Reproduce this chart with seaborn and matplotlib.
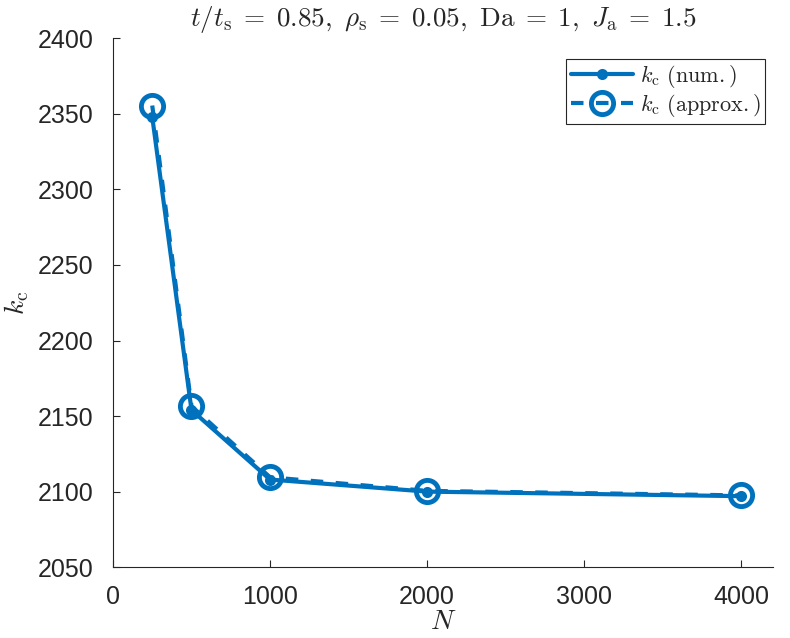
import matplotlib
matplotlib.use("Agg")
import matplotlib.pyplot as plt
import seaborn as sns
import pandas as pd

# Data
N = [250, 500, 1000, 2000, 4000]
kc_num = [2348, 2154, 2108, 2100, 2097]
kc_approx = [2355.5, 2156.5, 2109.5, 2100.5, 2097.5]

df = pd.DataFrame({"N": N, "num": kc_num, "approx": kc_approx})

sns.set_style("ticks")
plt.rcParams["font.family"] = ["Liberation Sans", "DejaVu Sans"]
plt.rcParams["mathtext.fontset"] = "cm"

blue = "#0072BD"
dark = "#262626"

fig = plt.figure(figsize=(7.9, 6.38), dpi=100)
ax = fig.add_axes([0.143, 0.111, 0.835, 0.829])

sns.lineplot(data=df, x="N", y="num", ax=ax, color=blue, lw=3, marker="o",
             markersize=8, markeredgewidth=0,
             label=r"$k_{\mathrm{c}}\ \mathrm{(num.)}$")
sns.lineplot(data=df, x="N", y="approx", ax=ax, color=blue, lw=3, ls=(0, (3, 3)),
             marker="o", markersize=16, markerfacecolor="none",
             markeredgecolor=blue, markeredgewidth=3.5,
             label=r"$k_{\mathrm{c}}\ \mathrm{(approx.)}$")

ax.set_xlim(0, 4200)
ax.set_ylim(2050, 2400)
ax.set_xticks([0, 1000, 2000, 3000, 4000])
ax.set_yticks(range(2050, 2401, 50))
ax.tick_params(direction="in", length=5, width=0.8, labelsize=18, colors=dark)
ax.tick_params(axis="y", pad=14)
ax.tick_params(axis="x", pad=13)
for s in ["left", "bottom"]:
    ax.spines[s].set_color(dark)
    ax.spines[s].set_linewidth(0.8)
sns.despine(ax=ax)

ax.set_xlabel(r"$N$", fontsize=20, labelpad=0)
ax.set_ylabel(r"$k_{\mathrm{c}}$", fontsize=20, labelpad=5)
ax.set_title(r"$t/t_{\mathrm{s}}\;=\;0.85,\ \rho_{\mathrm{s}}\;=\;0.05,\ "
             r"\mathrm{Da}\;=\;1,\ J_{\mathrm{a}}\;=\;1.5$",
             fontsize=19.5, pad=9)

leg = ax.legend(loc="upper right", bbox_to_anchor=(0.995, 0.97), fontsize=16,
                frameon=True, fancybox=False, edgecolor=dark,
                handlelength=2.8, borderpad=0.2, labelspacing=0.1,
                handletextpad=0.3, borderaxespad=0.2)
leg.get_frame().set_linewidth(0.8)
leg.get_frame().set_alpha(1)

fig.savefig("out.png", dpi=100)
